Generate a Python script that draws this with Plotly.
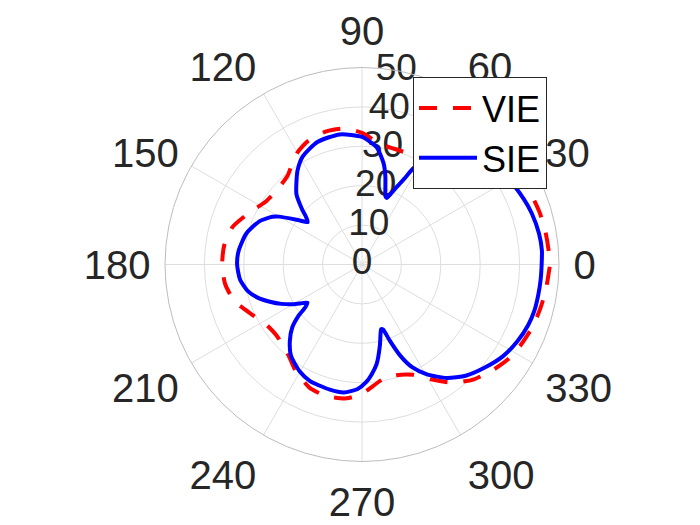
import plotly.graph_objects as go

# ---- data (degrees, radial units 0..50) ----
sie_theta = [0, 4.5, 10, 16.8, 22, 28.6, 32.3, 38, 44, 50, 55, 59, 61.8, 63.8, 66, 68, 69.5, 71, 73, 75.2, 78,
             82.9, 90, 99.7, 110, 118.7, 124.3, 128, 133, 137, 140, 142, 145, 150, 152, 157, 165, 173.6, 180,
             187, 193, 198, 202, 206, 210, 213, 215, 217, 219, 222, 226.5, 232, 239.7, 246, 255.6, 262,
             268, 272, 275, 278.4, 282.5, 285, 286.5, 288, 290, 292.7, 296, 300.6, 306.8, 313, 320, 327,
             333.7, 340, 345, 350.3, 355, 360]
sie_r = [45.6, 45.8, 45.6, 45.0, 44.3, 43.2, 41.9, 39.8, 37.4, 34.8, 32.2, 29.8, 27.8, 24.2, 21.4, 19.2, 18.0,
         18.3, 20.3, 23.2, 26.3,
         30.0, 32.4, 33.5, 33.1, 31.3, 29.0, 27.0, 24.4, 21.0, 18.4, 17.5, 19.6, 24.3, 25.8, 28.2, 30.4, 31.5, 31.7,
         31.2, 29.8, 27.6, 25.2, 22.8, 20.2, 18.0, 16.9, 18.0, 20.8, 23.8, 26.6, 29.3, 31.4, 32.4, 32.8, 32.8,
         31.6, 29.9, 28.0, 25.5, 21.0, 18.2, 17.1, 17.4, 20.5, 25.0, 29.0, 32.4, 36.0, 38.6, 40.7, 42.7,
         44.0, 44.9, 45.3, 45.4, 45.5, 45.6]

vie_theta = [0, 4.3, 10, 16, 22, 27.5, 35, 40, 45, 50, 55, 60, 65, 70, 75, 81.4, 90, 97.1, 105, 113.7, 120,
             125, 130, 138, 147, 155, 163.8, 172, 180, 188, 196, 205, 212, 220, 230, 238, 247, 255, 263.4,
             270, 279.8, 287, 295, 301, 307.5, 314, 320.4, 327, 333.3, 340, 346, 352, 358, 360]
vie_r = [47.7, 47.5, 47.3, 47.0, 46.5, 45.7, 44.0, 42.6, 40.6, 38.2, 35.4, 32.8, 31.0, 30.5, 30.5, 30.9, 33.4,
         34.8, 35.0, 34.2, 32.8, 31.0, 29.4, 28.7, 29.2, 31.4, 34.2, 35.3, 35.5, 35.1, 33.7, 30.5, 28.7, 28.2,
         29.4, 31.8, 34.0, 34.6, 34.2, 32.8, 29.7, 29.4, 30.9, 34.0, 37.8, 40.6, 42.5, 44.2, 45.2, 46.1, 46.6,
         47.1, 47.5, 47.7]

angle_ticks = [0, 30, 60, 90, 120, 150, 180, 210, 240, 270, 300, 330]
angle_labels = ["0", "30", "60", "90", "120", "150", "180", "210", "240", "270", "300", "330"]
r_ticks = [0, 10, 20, 30, 40, 50]
r_labels = ["0", "10", "20", "30", "40", "50"]
r_label_angle = [80] * len(r_ticks)

FONT = "Liberation Sans, Arial, Helvetica, sans-serif"
TXT = "#262626"

fig = go.Figure()

# radial tick labels placed along the 80 deg direction (as MATLAB does)
fig.add_trace(go.Scatterpolar(
    r=r_ticks, theta=r_label_angle, mode="text", text=r_labels,
    textfont=dict(family=FONT, size=37, color=TXT),
    textposition="middle center", showlegend=False, hoverinfo="skip"))

fig.add_trace(go.Scatterpolar(
    r=vie_r, theta=vie_theta, mode="lines", name="VIE",
    line=dict(color="#ff0000", width=4, dash="18px,16px", shape="spline", smoothing=0.6)))

fig.add_trace(go.Scatterpolar(
    r=sie_r, theta=sie_theta, mode="lines", name="SIE",
    line=dict(color="#0000ff", width=4, shape="spline", smoothing=0.6)))

W, H = 700, 525
OFF = 8  # page body margin
cx, cy, R = 362 - OFF, 264.5 - OFF, 197

fig.update_layout(
    width=W, height=H,
    margin=dict(l=0, r=0, t=0, b=0),
    paper_bgcolor="white",
    font=dict(family=FONT, size=40, color=TXT),
    polar=dict(
        domain=dict(x=[(cx - R) / W, (cx + R) / W],
                    y=[(H - cy - R) / H, (H - cy + R) / H]),
        bgcolor="white",
        radialaxis=dict(range=[0, 50], tickvals=r_ticks, showticklabels=False,
                        ticks="", showline=False, gridcolor="#dedede", gridwidth=1),
        angularaxis=dict(tickmode="array", tickvals=angle_ticks, ticktext=angle_labels,
                         direction="counterclockwise", rotation=0,
                         ticks="outside", ticklen=6, tickcolor="rgba(0,0,0,0)",
                         showline=True, linecolor="#bdbdbd", linewidth=1,
                         gridcolor="#dedede", gridwidth=1,
                         tickfont=dict(family=FONT, size=40, color=TXT)),
    ),
    legend=dict(x=(413 - OFF) / W, y=1 - (77 - OFF) / H, xanchor="left", yanchor="top",
                bgcolor="white", bordercolor="#262626", borderwidth=1,
                font=dict(family=FONT, size=36, color="black"),
                itemwidth=58, tracegroupgap=0),
    showlegend=True,
)

fig.write_html("out.html")
